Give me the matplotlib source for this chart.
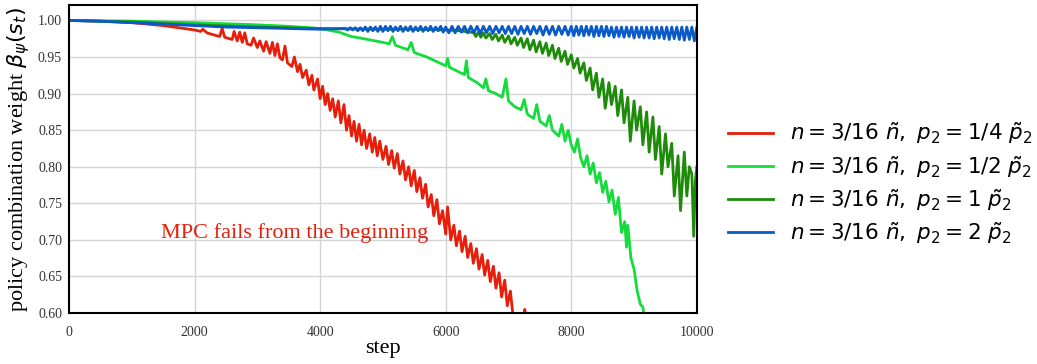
import matplotlib
matplotlib.use("Agg")
import matplotlib.pyplot as plt

# policy combination weight vs. step, four p2 settings (n = 3/16 n~)
labels = [
    r"$n = 3/16\ \tilde{n},\ p_2 = 1/4\ \tilde{p}_2$",
    r"$n = 3/16\ \tilde{n},\ p_2 = 1/2\ \tilde{p}_2$",
    r"$n = 3/16\ \tilde{n},\ p_2 = 1\ \tilde{p}_2$",
    r"$n = 3/16\ \tilde{n},\ p_2 = 2\ \tilde{p}_2$",
]
colors = ["#e61e0a", "#14dc3c", "#1e8c0a", "#0a5ac8"]

red_step = [0, 500, 1000, 1500, 2000, 2100, 2130, 2200, 2400, 2440, 2480,
            2600, 2630, 2680, 2720, 2760, 2800, 2840, 2900, 2940, 3000, 3040,
            3100, 3140, 3200, 3240, 3280, 3320, 3360, 3400, 3440, 3480, 3550,
            3590, 3640, 3680, 3720, 3780, 3820, 3870, 3900, 3960, 4000, 4040,
            4080, 4120, 4160, 4200, 4240, 4290, 4330, 4380, 4420, 4460, 4500,
            4540, 4580, 4620, 4660, 4700, 4740, 4790, 4830, 4870, 4910, 4950,
            5000, 5050, 5090, 5140, 5180, 5230, 5270, 5320, 5360, 5410, 5450,
            5500, 5540, 5590, 5630, 5680, 5720, 5770, 5810, 5860, 5900, 5950,
            6000, 6030, 6080, 6130, 6170, 6220, 6260, 6310, 6350, 6400, 6440,
            6490, 6530, 6580, 6620, 6670, 6710, 6760, 6800, 6850, 6890, 6940,
            6980, 7030, 7070, 7240, 7260, 7280]
red_val = [1.000, 0.999, 0.997, 0.993, 0.987, 0.985, 0.988, 0.983, 0.978, 0.989, 0.977,
           0.974, 0.985, 0.972, 0.984, 0.970, 0.983, 0.968, 0.966, 0.976, 0.963, 0.972,
           0.958, 0.971, 0.955, 0.970, 0.952, 0.968, 0.949, 0.946, 0.965, 0.942, 0.937,
           0.950, 0.930, 0.940, 0.922, 0.932, 0.912, 0.925, 0.905, 0.920, 0.893, 0.910,
           0.885, 0.900, 0.877, 0.893, 0.868, 0.890, 0.860, 0.885, 0.850, 0.870, 0.842,
           0.862, 0.835, 0.858, 0.830, 0.850, 0.825, 0.845, 0.820, 0.840, 0.815, 0.835,
           0.810, 0.828, 0.803, 0.822, 0.798, 0.818, 0.790, 0.808, 0.782, 0.800, 0.774,
           0.795, 0.766, 0.785, 0.757, 0.776, 0.745, 0.762, 0.733, 0.755, 0.722, 0.740,
           0.708, 0.745, 0.700, 0.720, 0.692, 0.712, 0.684, 0.705, 0.676, 0.695, 0.668,
           0.688, 0.660, 0.680, 0.652, 0.672, 0.643, 0.664, 0.634, 0.655, 0.622, 0.645,
           0.610, 0.630, 0.598, 0.590, 0.605, 0.590]

lgreen_step = [0, 1000, 2000, 3000, 3500, 4000, 4300, 4500, 4700, 5000, 5100,
               5150, 5200, 5400, 5450, 5500, 5700, 5800, 6000, 6030, 6060, 6200,
               6300, 6330, 6360, 6500, 6600, 6640, 6680, 6800, 6900, 6960, 7000,
               7100, 7200, 7250, 7300, 7400, 7450, 7500, 7600, 7650, 7700, 7800,
               7850, 7900, 7950, 8000, 8050, 8100, 8150, 8200, 8250, 8300, 8350,
               8400, 8450, 8500, 8550, 8600, 8650, 8700, 8750, 8800, 8850, 8880,
               8900, 8950, 9000, 9050, 9100, 9140, 9170]
lgreen_val = [1.000, 0.999, 0.997, 0.994, 0.992, 0.989, 0.984, 0.978, 0.975, 0.970, 0.968,
              0.978, 0.966, 0.960, 0.970, 0.956, 0.950, 0.946, 0.938, 0.948, 0.936, 0.930,
              0.926, 0.945, 0.922, 0.915, 0.908, 0.920, 0.904, 0.900, 0.895, 0.920, 0.890,
              0.882, 0.878, 0.892, 0.872, 0.866, 0.885, 0.862, 0.856, 0.870, 0.850, 0.842,
              0.858, 0.835, 0.850, 0.830, 0.820, 0.838, 0.812, 0.800, 0.815, 0.790, 0.805,
              0.778, 0.792, 0.765, 0.780, 0.752, 0.768, 0.735, 0.758, 0.710, 0.725, 0.690,
              0.720, 0.675, 0.660, 0.630, 0.612, 0.608, 0.590]

dgreen_step = [0, 1000, 2000, 3000, 4000, 5000, 5500, 6000, 6200, 6400,
               6450, 6480, 6520, 6560, 6600, 6640, 6700, 6740, 6800, 6840, 6900,
               6940, 7000, 7040, 7100, 7140, 7200, 7240, 7300, 7340, 7400, 7440,
               7500, 7540, 7600, 7640, 7700, 7740, 7800, 7840, 7900, 7940, 8000,
               8040, 8100, 8140, 8200, 8240, 8300, 8340, 8400, 8440, 8500, 8540,
               8600, 8640, 8700, 8740, 8800, 8840, 8900, 8940, 9000, 9040, 9100,
               9140, 9200, 9240, 9300, 9340, 9400, 9440, 9500, 9540, 9600, 9640,
               9700, 9740, 9800, 9840, 9880, 9920, 9950, 9975, 10000]
dgreen_val = [1.000, 0.998, 0.994, 0.991, 0.989, 0.988, 0.988, 0.987, 0.986, 0.984,
              0.983, 0.978, 0.984, 0.977, 0.983, 0.976, 0.982, 0.974, 0.981, 0.972, 0.980,
              0.970, 0.979, 0.968, 0.977, 0.966, 0.976, 0.963, 0.975, 0.960, 0.973, 0.957,
              0.971, 0.955, 0.969, 0.952, 0.966, 0.948, 0.962, 0.944, 0.958, 0.940, 0.953,
              0.935, 0.948, 0.928, 0.942, 0.918, 0.935, 0.905, 0.928, 0.895, 0.920, 0.880,
              0.915, 0.885, 0.910, 0.870, 0.905, 0.860, 0.895, 0.835, 0.890, 0.850, 0.882,
              0.830, 0.875, 0.820, 0.868, 0.810, 0.855, 0.790, 0.845, 0.800, 0.832, 0.760,
              0.815, 0.740, 0.820, 0.760, 0.800, 0.790, 0.705, 0.780, 0.800]

blue_step = [0, 500, 1000, 1500, 2000, 2500, 3000, 3500, 4000,
             4400, 4440, 4480, 4520, 4560, 4600, 4640, 4680, 4720, 4760, 4800, 4840,
             4880, 4920, 4960, 5000, 5040, 5080, 5120, 5160, 5200, 5240, 5280, 5320,
             5360, 5400, 5440, 5480, 5520, 5560, 5600, 5640, 5680, 5720, 5760, 5800,
             5840, 5880, 5920, 5960, 6000, 6050, 6100, 6150, 6200, 6250, 6300, 6350,
             6400, 6450, 6500, 6550, 6600, 6650, 6700, 6750, 6800, 6850, 6900, 6950,
             7000, 7050, 7100, 7150, 7200, 7250, 7300, 7350, 7400, 7450, 7500, 7550,
             7600, 7650, 7700, 7750, 7800, 7850, 7900, 7950, 8000, 8040, 8080, 8120,
             8160, 8200, 8240, 8280, 8320, 8360, 8400, 8440, 8480, 8520, 8560, 8600,
             8640, 8680, 8720, 8760, 8800, 8840, 8880, 8920, 8960, 9000, 9040, 9080,
             9120, 9160, 9200, 9240, 9280, 9320, 9360, 9400, 9440, 9480, 9520, 9560,
             9600, 9640, 9680, 9720, 9760, 9800, 9840, 9880, 9920, 9960, 10000]
blue_val = [1.000, 0.999, 0.997, 0.995, 0.993, 0.991, 0.990, 0.989, 0.988,
            0.989, 0.987, 0.990, 0.987, 0.990, 0.986, 0.990, 0.986, 0.991, 0.985, 0.991, 0.986,
            0.991, 0.985, 0.992, 0.985, 0.992, 0.986, 0.992, 0.985, 0.991, 0.986, 0.992, 0.985,
            0.991, 0.986, 0.992, 0.985, 0.991, 0.986, 0.992, 0.985, 0.991, 0.986, 0.992, 0.985,
            0.991, 0.986, 0.992, 0.984, 0.991, 0.983, 0.992, 0.983, 0.992, 0.984, 0.992, 0.983,
            0.992, 0.983, 0.992, 0.982, 0.992, 0.983, 0.992, 0.982, 0.992, 0.983, 0.992, 0.982,
            0.992, 0.982, 0.992, 0.981, 0.992, 0.982, 0.992, 0.981, 0.992, 0.982, 0.992, 0.980,
            0.992, 0.981, 0.992, 0.980, 0.992, 0.981, 0.992, 0.980, 0.992, 0.979, 0.992, 0.980,
            0.992, 0.979, 0.992, 0.980, 0.992, 0.978, 0.992, 0.979, 0.992, 0.978, 0.992, 0.979,
            0.991, 0.977, 0.991, 0.978, 0.991, 0.977, 0.991, 0.978, 0.991, 0.976, 0.991, 0.977,
            0.991, 0.976, 0.991, 0.976, 0.991, 0.975, 0.991, 0.976, 0.991, 0.975, 0.991, 0.974,
            0.991, 0.975, 0.991, 0.974, 0.991, 0.973, 0.991, 0.974, 0.991, 0.972, 0.991]

steps = [red_step, lgreen_step, dgreen_step, blue_step]
values = [red_val, lgreen_val, dgreen_val, blue_val]

fig = plt.figure(figsize=(10.37, 3.64), dpi=100)
ax = fig.add_axes([0.0665, 0.140, 0.6055, 0.846])

for s, v, c, lab in zip(steps, values, colors, labels):
    ax.plot(s, v, color=c, lw=2.0, label=lab)

ax.set_xlim(0, 10000)
ax.set_ylim(0.6, 1.021)
ax.set_xticks([0, 2000, 4000, 6000, 8000, 10000])
ax.set_yticks([0.60, 0.65, 0.70, 0.75, 0.80, 0.85, 0.90, 0.95, 1.00])
ax.grid(True, color="#d4d4d4", lw=1.0)
ax.set_axisbelow(True)
ax.tick_params(length=0, labelsize=10, labelcolor="#333333")
ax.tick_params(axis="x", pad=9)
ax.tick_params(axis="y", pad=5)
for lbl in ax.get_xticklabels() + ax.get_yticklabels():
    lbl.set_family("Liberation Serif")
for sp in ax.spines.values():
    sp.set_color("black")
    sp.set_linewidth(1.5)

ax.set_xlabel("step", family="Liberation Serif", fontsize=16, labelpad=0)
ax.set_ylabel(r"policy combination weight $\beta_\psi(s_t)$",
              family="Liberation Serif", fontsize=16, labelpad=4)

ax.text(3600, 0.71, "MPC fails from the beginning", color="#e61e0a",
        family="Liberation Serif", fontsize=16, ha="center", va="center")

fig.legend(loc="center left", bbox_to_anchor=(0.683, 0.497), frameon=False,
           fontsize=15.5, handlelength=2.1, labelspacing=0.33)

fig.savefig("out.png", dpi=100)
